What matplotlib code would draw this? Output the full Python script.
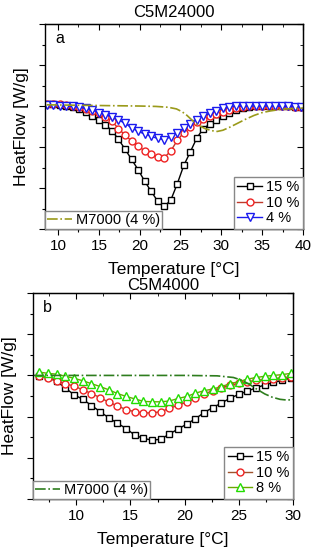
import matplotlib
matplotlib.use("Agg")
import matplotlib.pyplot as plt
from matplotlib.ticker import MultipleLocator, NullFormatter

plt.rcParams["font.family"] = ["Liberation Sans", "DejaVu Sans"]

# ---------- panel a: C5M24000 ----------
temp_a = [8.6, 9.4, 10.2, 11.0, 11.8, 12.6, 13.4, 14.2, 15.0, 15.8,
          16.6, 17.4, 18.2, 19.0, 19.8, 20.6, 21.4, 22.2, 23.0, 23.8,
          24.6, 25.4, 26.2, 27.0, 27.8, 28.6, 29.4, 30.2, 31.0, 31.8,
          32.6, 33.4, 34.2, 35.0, 35.8, 36.6, 37.4, 38.2, 39.0, 39.8]
a_15 = [3.05, 3.05, 3.03, 3.01, 2.98, 2.93, 2.85, 2.76, 2.66, 2.54,
        2.40, 2.19, 1.95, 1.70, 1.45, 1.17, 0.92, 0.68, 0.55, 0.70,
        1.10, 1.55, 1.88, 2.22, 2.45, 2.56, 2.66, 2.76, 2.84, 2.90,
        2.95, 2.98, 3.00, 3.00, 3.00, 3.00, 3.00, 2.99, 2.98, 2.97]
a_10 = [3.06, 3.06, 3.04, 3.02, 3.00, 2.97, 2.93, 2.88, 2.82, 2.74,
        2.63, 2.45, 2.29, 2.15, 2.02, 1.91, 1.83, 1.76, 1.74, 1.90,
        2.16, 2.35, 2.48, 2.60, 2.68, 2.75, 2.81, 2.86, 2.90, 2.94,
        2.97, 2.99, 3.00, 3.00, 3.00, 3.00, 3.00, 2.99, 2.98, 2.97]
a_4 = [3.02, 3.02, 3.01, 3.00, 2.99, 2.97, 2.94, 2.90, 2.84, 2.79,
       2.74, 2.66, 2.58, 2.47, 2.38, 2.32, 2.26, 2.21, 2.18, 2.25,
       2.34, 2.46, 2.57, 2.67, 2.76, 2.82, 2.89, 2.94, 2.98, 3.00,
       3.00, 3.00, 3.00, 3.00, 3.00, 3.00, 2.99, 2.99, 2.98, 2.98]
m7000_a_temp = [8.6, 12, 16, 20, 22, 23.5, 24.5, 25.2, 25.8, 26.5, 27.2, 28, 28.8,
                29.5, 30.2, 31, 32, 33, 34, 35, 36, 37, 38, 39, 40]
m7000_a = [3.03, 3.02, 3.01, 3.0, 2.99, 2.97, 2.93, 2.86, 2.77, 2.64, 2.53, 2.45, 2.40,
           2.38, 2.41, 2.48, 2.58, 2.68, 2.77, 2.84, 2.88, 2.91, 2.93, 2.94, 2.95]

# ---------- panel b: C5M4000 ----------
temp_b = [6.6, 7.4, 8.2, 9.0, 9.8, 10.6, 11.4, 12.2, 13.0, 13.8,
          14.6, 15.4, 16.2, 17.0, 17.8, 18.6, 19.4, 20.2, 21.0, 21.8,
          22.6, 23.4, 24.2, 25.0, 25.8, 26.6, 27.4, 28.2, 29.0, 29.8]
b_15 = [2.99, 2.95, 2.86, 2.69, 2.53, 2.42, 2.27, 2.12, 1.97, 1.84,
        1.71, 1.55, 1.47, 1.43, 1.45, 1.58, 1.70, 1.82, 1.95, 2.10,
        2.22, 2.33, 2.45, 2.54, 2.62, 2.70, 2.77, 2.83, 2.88, 2.94]
b_10 = [2.99, 2.93, 2.86, 2.80, 2.74, 2.65, 2.56, 2.46, 2.35, 2.26,
        2.17, 2.12, 2.09, 2.09, 2.12, 2.20, 2.28, 2.35, 2.46, 2.55,
        2.63, 2.70, 2.76, 2.81, 2.85, 2.88, 2.90, 2.92, 2.94, 2.97]
b_8 = [3.08, 3.05, 3.03, 2.98, 2.93, 2.87, 2.80, 2.73, 2.65, 2.56,
       2.49, 2.43, 2.37, 2.36, 2.36, 2.38, 2.44, 2.49, 2.57, 2.63,
       2.67, 2.73, 2.80, 2.85, 2.91, 2.95, 2.98, 3.00, 3.02, 3.05]
m7000_b_temp = [6, 10, 15, 20, 23, 24.5, 25.3, 26.0, 26.7, 27.4, 28.1, 28.8, 29.5, 30]
m7000_b = [3.0, 3.0, 3.0, 3.0, 2.99, 2.95, 2.88, 2.78, 2.66, 2.55, 2.47, 2.42, 2.40, 2.42]

fig = plt.figure(figsize=(3.13, 5.5), dpi=100)
ax1 = fig.add_axes([0.1438, 0.5836, 0.824, 0.3727])
ax2 = fig.add_axes([0.1054, 0.0927, 0.8307, 0.3745])

ms = 4.5
lw = 1.0
leg_kw = dict(fontsize=10.5, handlelength=1.7, handletextpad=0.25, labelspacing=0.1,
              borderpad=0.25, borderaxespad=0.0, fancybox=False, edgecolor="#888888",
              framealpha=1)


def style(ax, xlim, label):
    ax.set_xlim(*xlim)
    ax.set_ylim(0, 5)
    ax.xaxis.set_major_locator(MultipleLocator(5))
    ax.xaxis.set_minor_locator(MultipleLocator(2.5))
    ax.yaxis.set_major_locator(MultipleLocator(1))
    ax.yaxis.set_minor_locator(MultipleLocator(0.5))
    ax.yaxis.set_major_formatter(NullFormatter())
    ax.tick_params(axis="both", which="major", length=4, width=0.8, labelsize=11)
    ax.tick_params(axis="both", which="minor", length=2.5, width=0.8)
    ax.tick_params(axis="x", which="both", direction="out", top=False)
    ax.tick_params(axis="y", which="both", direction="out", right=False)
    sec = ax.secondary_xaxis("top")
    sec.xaxis.set_major_locator(MultipleLocator(5))
    sec.xaxis.set_minor_locator(MultipleLocator(2.5))
    sec.tick_params(which="both", direction="in", labeltop=False)
    sec.tick_params(which="major", length=4)
    sec.tick_params(which="minor", length=2.5)
    sec2 = ax.secondary_yaxis("right")
    sec2.yaxis.set_major_locator(MultipleLocator(1))
    sec2.yaxis.set_minor_locator(MultipleLocator(0.5))
    sec2.tick_params(which="both", direction="in", labelright=False)
    sec2.tick_params(which="major", length=4)
    sec2.tick_params(which="minor", length=2.5)
    for s in ax.spines.values():
        s.set_linewidth(1.0)
    ax.set_xlabel("Temperature [°C]", fontsize=12.5, labelpad=6)
    ax.set_ylabel("HeatFlow [W/g]", fontsize=12.5, labelpad=4)
    ax.text(0.04, 0.93, label, transform=ax.transAxes, fontsize=11.5, va="center")


# panel a
l15, = ax1.plot(temp_a, a_15, "-s", color="black", lw=lw, ms=ms, mfc="white", mew=1.0)
l10, = ax1.plot(temp_a, a_10, "-o", color="#c0392b", lw=lw, ms=ms + 0.5, mfc="white",
                mec="#ee2222", mew=1.0)
l4, = ax1.plot(temp_a, a_4, "-v", color="#1a1aee", lw=lw, ms=ms + 1, mfc="white", mew=1.0)
lm, = ax1.plot(m7000_a_temp, m7000_a, "-.", color="#9a9a1a", lw=1.2)
style(ax1, (8.4, 40), "a")
ax1.set_title("C5M24000", fontsize=12, pad=5)
leg1 = ax1.legend([l15, l10, l4], ["15 %", "10 %", "4 %"], loc="lower right", **leg_kw)
ax1.add_artist(leg1)
ax1.legend([lm], ["M7000 (4 %)"], loc="lower left", **dict(leg_kw, borderpad=0.15))

# panel b
k15, = ax2.plot(temp_b, b_15, "-s", color="black", lw=lw, ms=ms, mfc="white", mew=1.0)
k10, = ax2.plot(temp_b, b_10, "-o", color="#a0522d", lw=lw, ms=ms + 0.5, mfc="white",
                mec="#ee2222", mew=1.0)
k8, = ax2.plot(temp_b, b_8, "-^", color="#6aa800", lw=lw, ms=ms + 1, mfc="white",
               mec="#22dd00", mew=1.0)
km, = ax2.plot(m7000_b_temp, m7000_b, "-.", color="#2e7d1e", lw=1.2)
style(ax2, (6.0, 30), "b")
ax2.set_title("C5M4000", fontsize=12, pad=2)
leg2 = ax2.legend([k15, k10, k8], ["15 %", "10 %", "8 %"], loc="lower right", **leg_kw)
ax2.add_artist(leg2)
ax2.legend([km], ["M7000 (4 %)"], loc="lower left", **dict(leg_kw, borderpad=0.15))

fig.savefig("out.png", dpi=100)
